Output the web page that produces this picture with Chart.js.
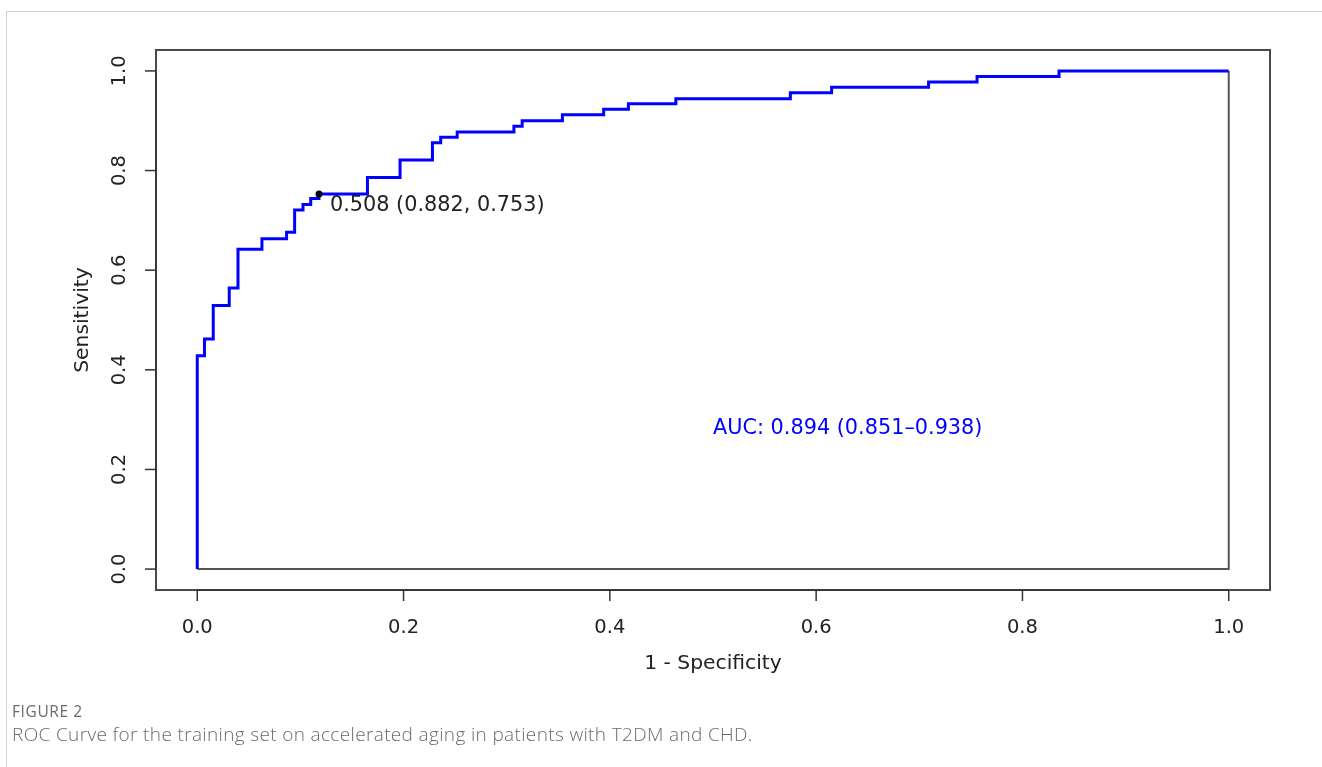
<!DOCTYPE html>
<html>
<head>
<meta charset="utf-8">
<script src="https://cdn.jsdelivr.net/npm/chart.js@4.4.1/dist/chart.umd.min.js"></script>
<style>
  html, body { margin: 0; padding: 0; background: #fff; }
  body { width: 1322px; height: 767px; position: relative; overflow: hidden; }
  #card { position: absolute; left: 6px; top: 11px; right: -2px; bottom: -2px;
          border-top: 1px solid #d0d0d0; border-left: 1px solid #d0d0d0; }
  #c { position: absolute; left: 0; top: 0; }
  #figlabel { position: absolute; left: 12px; top: 700px; font-family: "Open Sans", sans-serif;
              font-size: 15.5px; line-height: 22px; color: #6b6b6b; letter-spacing: 0.6px; }
  #figcap { position: absolute; left: 12px; top: 721px; font-family: "Open Sans", sans-serif;
            font-size: 19px; line-height: 26px; color: #6b6b6b; font-weight: 300; letter-spacing: 0.35px; }
</style>
</head>
<body>
<div id="card"></div>
<canvas id="c" width="1322" height="767"></canvas>
<div id="figlabel">FIGURE 2</div>
<div id="figcap">ROC Curve for the training set on accelerated aging in patients with T2DM and CHD.</div>
<script>
// ---- data ----
const fpr = [0, 0, 0.007, 0.0155, 0.031, 0.0395, 0.0627, 0.0866, 0.0944, 0.1025, 0.110, 0.118,
             0.165, 0.1966, 0.228, 0.236, 0.252, 0.307, 0.315, 0.354, 0.394, 0.418, 0.464,
             0.575, 0.615, 0.709, 0.756, 0.8355, 1.0];
const tpr = [0, 0.428, 0.462, 0.529, 0.564, 0.642, 0.663, 0.676, 0.721, 0.732, 0.744, 0.753,
             0.786, 0.821, 0.856, 0.867, 0.8775, 0.889, 0.900, 0.912, 0.923, 0.934, 0.944,
             0.956, 0.967, 0.978, 0.989, 1.0, 1.0];
const closeX = [1, 1, 0];
const closeY = [1, 0, 0];
const bestFpr = [0.118];
const bestTpr = [0.753];
const bestLabel = "0.508 (0.882, 0.753)";
const aucLabel = "AUC: 0.894 (0.851\u20130.938)";
const aucPos = [0.5, 0.282];
const xTickVals = [0, 0.2, 0.4, 0.6, 0.8, 1.0];
const xTickLabels = ["0.0", "0.2", "0.4", "0.6", "0.8", "1.0"];
const yTickVals = [0, 0.2, 0.4, 0.6, 0.8, 1.0];
const yTickLabels = ["0.0", "0.2", "0.4", "0.6", "0.8", "1.0"];
const xTitle = "1 - Specificity";
const yTitle = "Sensitivity";

const FONT = '"DejaVu Sans", Verdana, sans-serif';

const rPlot = {
  id: 'rPlot',
  afterDraw(chart) {
    const ctx = chart.ctx;
    const a = chart.chartArea;
    const xs = chart.scales.x, ys = chart.scales.y;
    ctx.save();
    // box
    ctx.strokeStyle = '#4a4a4a';
    ctx.lineWidth = 2;
    ctx.strokeRect(a.left, a.top, a.right - a.left, a.bottom - a.top);
    // x axis ticks
    ctx.lineWidth = 1.5;
    ctx.strokeStyle = '#333';
    ctx.beginPath();
    ctx.moveTo(xs.getPixelForValue(xTickVals[0]), a.bottom);
    ctx.lineTo(xs.getPixelForValue(xTickVals[xTickVals.length - 1]), a.bottom);
    ctx.stroke();
    ctx.fillStyle = '#222';
    ctx.font = '19.5px ' + FONT;
    ctx.textAlign = 'center';
    ctx.textBaseline = 'middle';
    xTickVals.forEach((v, i) => {
      const px = xs.getPixelForValue(v);
      ctx.beginPath(); ctx.moveTo(px, a.bottom); ctx.lineTo(px, a.bottom + 11); ctx.stroke();
      ctx.fillText(xTickLabels[i], px, a.bottom + 38);
    });
    // y axis ticks
    ctx.beginPath();
    ctx.moveTo(a.left, ys.getPixelForValue(yTickVals[0]));
    ctx.lineTo(a.left, ys.getPixelForValue(yTickVals[yTickVals.length - 1]));
    ctx.stroke();
    yTickVals.forEach((v, i) => {
      const py = ys.getPixelForValue(v);
      ctx.beginPath(); ctx.moveTo(a.left, py); ctx.lineTo(a.left - 11, py); ctx.stroke();
      ctx.save();
      ctx.translate(a.left - 36, py);
      ctx.rotate(-Math.PI / 2);
      ctx.fillText(yTickLabels[i], 0, 0);
      ctx.restore();
    });
    // titles
    ctx.font = '20.3px ' + FONT;
    ctx.fillText(xTitle, (xs.getPixelForValue(0) + xs.getPixelForValue(1)) / 2, a.bottom + 74);
    ctx.save();
    ctx.translate(a.left - 73, (ys.getPixelForValue(0) + ys.getPixelForValue(1)) / 2);
    ctx.rotate(-Math.PI / 2);
    ctx.fillText(yTitle, 0, 0);
    ctx.restore();
    // annotations
    ctx.textAlign = 'left';
    ctx.font = '20.8px ' + FONT;
    ctx.fillStyle = '#222';
    ctx.fillText(bestLabel, xs.getPixelForValue(bestFpr[0]) + 11, ys.getPixelForValue(bestTpr[0]) + 12);
    ctx.fillStyle = '#0000ff';
    ctx.font = '20.8px ' + FONT;
    ctx.fillText(aucLabel, xs.getPixelForValue(aucPos[0]), ys.getPixelForValue(aucPos[1]));
    ctx.restore();
  }
};

new Chart(document.getElementById('c'), {
  type: 'scatter',
  data: {
    datasets: [
      {
        data: closeX.map((x, i) => ({ x, y: closeY[i] })),
        showLine: true, borderColor: '#555', borderWidth: 2, pointRadius: 0, order: 3
      },
      {
        data: fpr.map((x, i) => ({ x, y: tpr[i] })),
        showLine: true, stepped: 'before', borderColor: '#0000ff', borderWidth: 3,
        pointRadius: 0, order: 2
      },
      {
        data: bestFpr.map((x, i) => ({ x, y: bestTpr[i] })),
        showLine: false, pointRadius: 3.5, pointBackgroundColor: '#000', pointBorderWidth: 0, order: 1
      }
    ]
  },
  options: {
    responsive: false,
    animation: false,
    layout: { padding: { left: 156, right: 52, top: 50, bottom: 177 } },
    plugins: { legend: { display: false }, tooltip: { enabled: false } },
    scales: {
      x: { type: 'linear', display: false, min: -0.04, max: 1.04 },
      y: { type: 'linear', display: false, min: -0.042, max: 1.042 }
    }
  },
  plugins: [rPlot]
});
</script>
</body>
</html>
